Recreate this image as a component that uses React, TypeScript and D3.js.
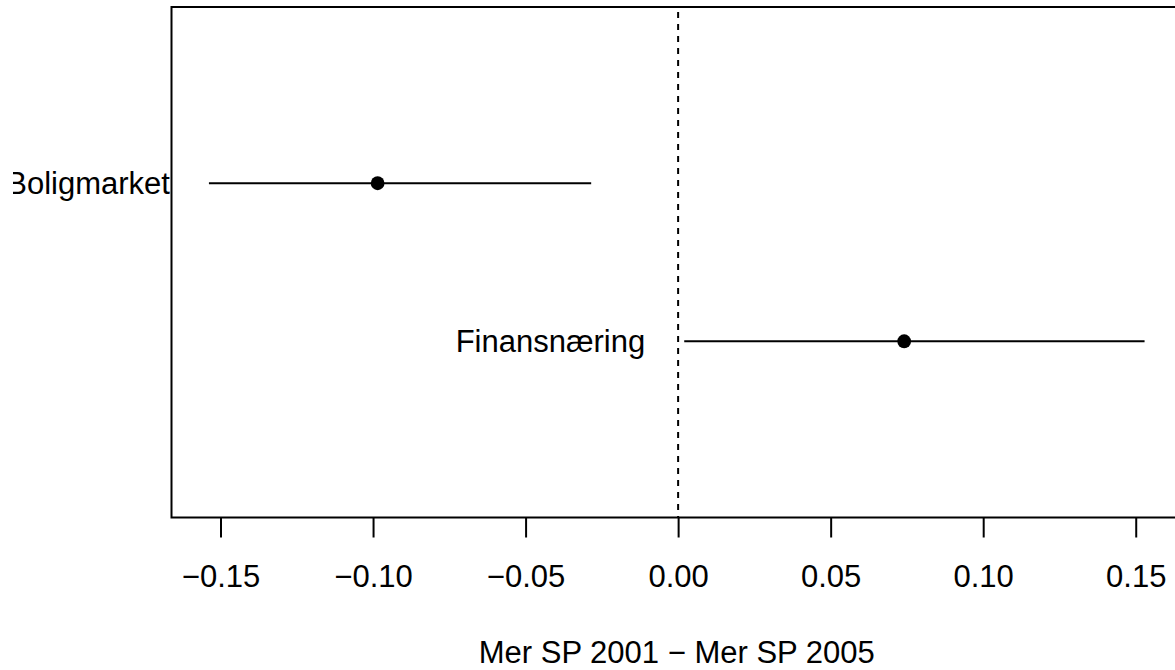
import React, { useEffect, useRef } from 'react';
import * as d3 from 'd3';

const categories = ['Boligmarket', 'Finansnæring'];
const estimates = [-0.0985, 0.0741];
const lowers = [-0.1538, 0.002];
const uppers = [-0.0285, 0.1529];
const xTicks = [-0.15, -0.1, -0.05, 0, 0.05, 0.1, 0.15];
const xTitle = 'Mer SP 2001 \u2212 Mer SP 2005';

const W = 1175;
const H = 670;
const FONT = '"Liberation Sans", Arial, Helvetica, sans-serif';

export default function App() {
  const svgRef = useRef<SVGSVGElement>(null);

  useEffect(() => {
    if (!svgRef.current) return;
    const svg = d3.select(svgRef.current);
    svg.selectAll('*').remove();

    const plot = { left: 171.5, right: 1182, top: 7, bottom: 517.5 };

    // R-style 4% extension of the data range
    const lo = d3.min(lowers) as number;
    const hi = d3.max(uppers) as number;
    const pad = (hi - lo) * 0.04;
    const x = d3.scaleLinear()
      .domain([lo - pad, hi + pad])
      .range([plot.left, plot.right]);

    const y = d3.scalePoint<string>()
      .domain(categories)
      .range([plot.top, plot.bottom])
      .padding(1.115);

    svg.append('defs').append('clipPath')
      .attr('id', 'fig-clip')
      .append('rect')
      .attr('x', 13).attr('y', 0)
      .attr('width', W - 13).attr('height', H);

    // zero reference line
    svg.append('line')
      .attr('x1', x(0)).attr('x2', x(0))
      .attr('y1', plot.top + 5).attr('y2', plot.bottom)
      .attr('stroke', '#000')
      .attr('stroke-width', 2)
      .attr('stroke-dasharray', '6,6');

    // intervals
    const rows = categories.map((c, i) => ({
      c, est: estimates[i], lo: lowers[i], hi: uppers[i]
    }));

    svg.selectAll('line.ci')
      .data(rows)
      .enter().append('line')
      .attr('class', 'ci')
      .attr('x1', d => x(d.lo)).attr('x2', d => x(d.hi))
      .attr('y1', d => y(d.c)!).attr('y2', d => y(d.c)!)
      .attr('stroke', '#000')
      .attr('stroke-width', 2);

    svg.selectAll('circle.pt')
      .data(rows)
      .enter().append('circle')
      .attr('class', 'pt')
      .attr('cx', d => x(d.est))
      .attr('cy', d => y(d.c)!)
      .attr('r', 6.9)
      .attr('fill', '#000');

    svg.append('g')
      .attr('clip-path', 'url(#fig-clip)')
      .selectAll('text')
      .data(rows)
      .enter().append('text')
      .attr('x', d => x(d.lo) - 39)
      .attr('y', d => y(d.c)! + 11)
      .attr('text-anchor', 'end')
      .attr('font-family', FONT)
      .attr('font-size', 31)
      .attr('fill', '#000')
      .text(d => d.c);

    // box (right side falls outside the picture)
    svg.append('path')
      .attr('d', `M${plot.right},${plot.top}H${plot.left}V${plot.bottom}H${plot.right}`)
      .attr('fill', 'none')
      .attr('stroke', '#000')
      .attr('stroke-width', 2);

    // x axis
    const axis = svg.append('g')
      .attr('transform', `translate(0,${plot.bottom})`)
      .call(d3.axisBottom(x)
        .tickValues(xTicks)
        .tickSize(20)
        .tickFormat(d3.format('.2f')));
    axis.select('.domain').remove();
    axis.selectAll('.tick line')
      .attr('stroke', '#000')
      .attr('stroke-width', 2);
    axis.selectAll('.tick text')
      .attr('y', 69)
      .attr('dy', null)
      .attr('fill', '#000')
      .attr('font-family', FONT)
      .attr('font-size', 31);

    svg.append('text')
      .attr('x', (plot.left + plot.right) / 2)
      .attr('y', 663)
      .attr('text-anchor', 'middle')
      .attr('font-family', FONT)
      .attr('font-size', 31)
      .attr('fill', '#000')
      .text(xTitle);
  }, []);

  return (
    <svg
      ref={svgRef}
      width={W}
      height={H}
      style={{ position: 'absolute', left: 0, top: 0, background: '#fff', display: 'block' }}
    />
  );
}
